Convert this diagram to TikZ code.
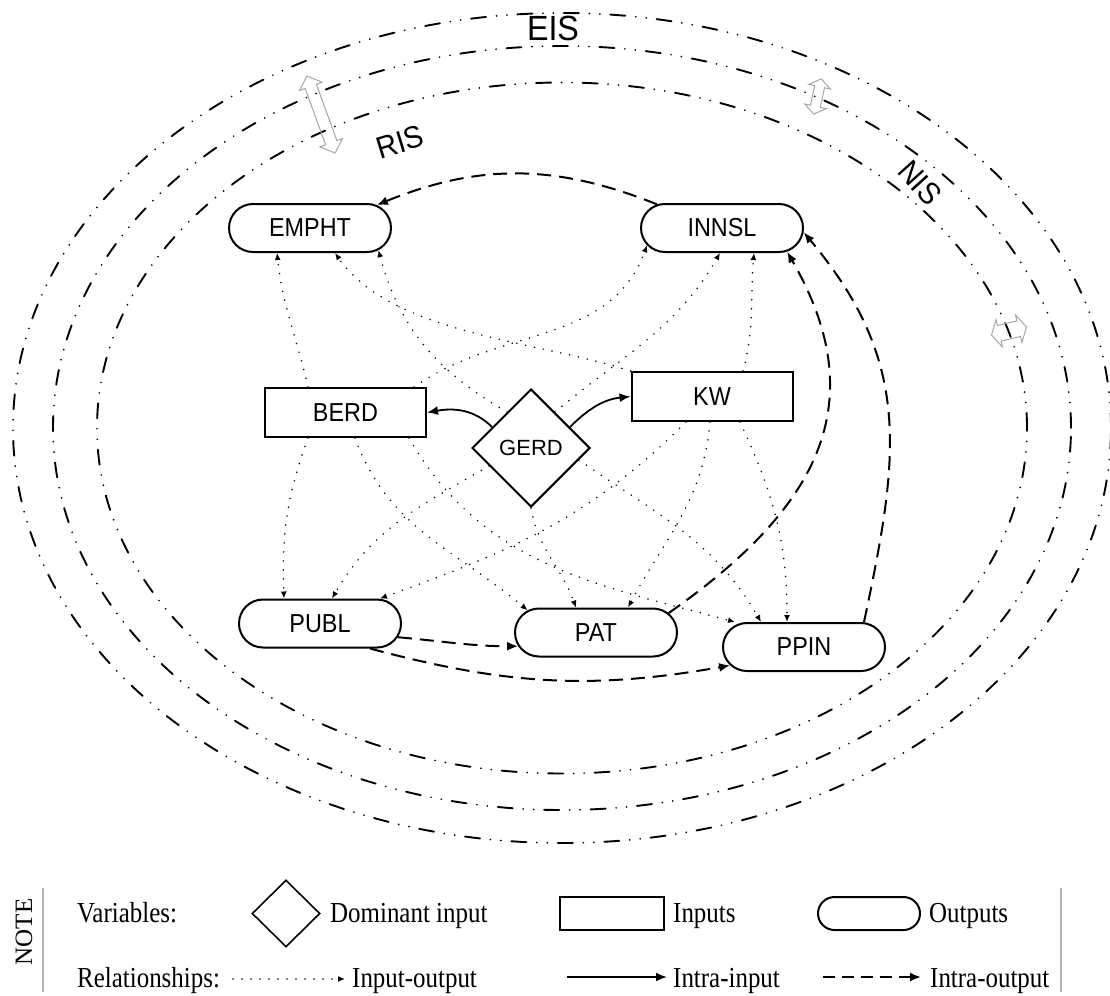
\documentclass[tikz,border=0pt]{standalone}
\usepackage{fontspec}
\setmainfont{Liberation Serif}
\setsansfont{Liberation Sans}
\usetikzlibrary{shapes.geometric,shapes.misc,arrows.meta,calc}
\newcommand{\legsc}[1]{\scalebox{0.86}[1]{#1}}
\newcommand{\nodesc}[1]{\scalebox{0.9}[1]{#1}}
% hollow double arrow: centre x, centre y, angle, half length, head length, half head width, half shaft width
\newcommand{\hollowdarrow}[7]{%
  \draw[gar, shift={(#1,#2)}, rotate=#3]
    (-#4,0) -- (-#4+#5,#6) -- (-#4+#5,#7) -- (#4-#5,#7) -- (#4-#5,#6) -- (#4,0)
    -- (#4-#5,-#6) -- (#4-#5,-#7) -- (-#4+#5,-#7) -- (-#4+#5,-#6) -- cycle;}
\begin{document}
\begin{tikzpicture}[x=1pt,y=1pt,
  outbox/.style={rounded rectangle, draw, line width=2pt, minimum width=162pt, minimum height=48pt, inner sep=0pt, font=\sffamily\fontsize{26}{26}\selectfont},
  inbox/.style={rectangle, draw, line width=2pt, minimum width=161pt, minimum height=49pt, inner sep=0pt, font=\sffamily\fontsize{26}{26}\selectfont},
  dombox/.style={diamond, draw, line width=2pt, minimum width=118pt, minimum height=118pt, inner sep=0pt, font=\sffamily\fontsize{22}{22}\selectfont},
  ring/.style={line width=1.9pt, dash pattern=on 15pt off 10.5pt on 0pt off 10.5pt on 0pt off 10.5pt, line cap=round},
  io/.style={line width=1.7pt, dash pattern=on 0pt off 9pt, line cap=round, -{Latex[length=7pt,width=6pt]}},
  intrain/.style={line width=1.8pt, -{Latex[length=11pt,width=9pt]}},
  intraout/.style={line width=2pt, dash pattern=on 14pt off 8pt, -{Latex[length=11pt,width=9pt]}},
  gar/.style={draw=black!35, line width=1pt, line join=miter},
  lab/.style={font=\sffamily\fontsize{31}{31}\selectfont, inner sep=0pt},
  legtext/.style={font=\fontsize{29}{29}\selectfont, inner sep=0pt, anchor=base west},
]
\fill[white] (0,0) rectangle (1110,-995);
\useasboundingbox (0,0) rectangle (1110,-995);

% system rings
\draw[ring] (562,-428) ellipse [x radius=465, y radius=345.5];
\draw[ring] (562,-428) ellipse [x radius=509, y radius=382];
\draw[ring] (562,-428) ellipse [x radius=549, y radius=415];

\node[lab, font=\sffamily\fontsize{35}{35}\selectfont] (EIS) at (553,-28) {\scalebox{0.92}[1]{EIS}};
\node[lab, rotate=17] (RIS) at (400,-142) {\scalebox{0.92}[1]{RIS}};
\node[lab, rotate=-48] (NIS) at (920,-183) {\scalebox{0.92}[1]{NIS}};

% hollow grey double arrows between the rings
\hollowdarrow{321}{-114.5}{110}{41}{11}{12}{6}
\hollowdarrow{817.5}{-96.5}{78}{18}{8}{11}{5}
\hollowdarrow{1009}{-331}{13}{18}{8}{14}{8}

% variables
\node[outbox] (EMPHT) at (310,-228) {\nodesc{EMPHT}};
\node[outbox] (INNSL) at (722,-228) {\nodesc{INNSL}};
\node[inbox] (BERD) at (345.5,-412.5) {\nodesc{BERD}};
\node[inbox] (KW) at (712,-396.5) {\nodesc{KW}};
\node[dombox] (GERD) at (531,-448) {GERD};
\node[outbox] (PUBL) at (320,-623.5) {\nodesc{PUBL}};
\node[outbox] (PAT) at (596,-632.5) {\nodesc{PAT}};
\node[outbox] (PPIN) at (804,-647) {\nodesc{PPIN}};

% input-output
\draw[io] ($(BERD.north)+(-37.5,0)$) to[out=103,in=-84] ($(EMPHT.south)+(-33,0)$);
\draw[io] (KW.north west) to[out=162,in=-55,looseness=0.8] ($(EMPHT.south)+(25,0)$);
\draw[io] ($(GERD.west)!0.6!(GERD.north)$) to[out=150,in=-75] (EMPHT.-18);
\draw[io] ($(BERD.north)+(68.5,0)$) to[out=35,in=-110] (INNSL.193);
\draw[io] ($(GERD.north)!0.4!(GERD.east)$) to[out=40,in=-120] ($(INNSL.south)+(-2,0)$);
\draw[io] ($(KW.north)+(31,0)$) to[out=75,in=-95] ($(INNSL.south)+(32,0)$);
\draw[io] ($(BERD.south)+(-37.5,0)$) to[out=-110,in=92] ($(PUBL.north)+(-36,0)$);
\draw[io] ($(GERD.west)!0.3!(GERD.south)$) to[out=210,in=60] ($(PUBL.north)+(12,0)$);
\draw[io] ($(KW.south)+(-26,0)$) to[out=225,in=20] ($(PUBL.north)+(60,0)$);
\draw[io] ($(BERD.south)+(9.5,0)$) to[out=-70,in=140] (PAT.162);
\draw[io] (GERD.south) to[out=-80,in=110] ($(PAT.north)+(-20,0)$);
\draw[io] ($(KW.south)+(-2,0)$) to[out=-95,in=62] ($(PAT.north)+(32,0)$);
\draw[io] ($(BERD.south)+(63.5,0)$) to[out=-60,in=165] ($(PPIN.north)+(-69,0)$);
\draw[io] ($(GERD.east)!0.2!(GERD.south)$) to[out=-35,in=120] ($(PPIN.north)+(-43,0)$);
\draw[io] ($(KW.south)+(28,0)$) to[out=-65,in=90] ($(PPIN.north)+(-17,0)$);

% intra-input
\draw[intrain] ($(GERD.west)!0.35!(GERD.north)$) to[out=135,in=10] (BERD.east);
\draw[intrain] ($(GERD.east)!0.35!(GERD.north)$) to[out=45,in=186] (KW.west);

% intra-output
\draw[intraout] (INNSL.160) to[bend right=22] (EMPHT.19);
\draw[intraout] (PAT.15) to[out=35,in=-60,looseness=1.2] (INNSL.-20);
\draw[intraout] ($(PPIN.north)+(60,0)$) to[out=78,in=-50,looseness=1.1] (INNSL.-3);
\draw[intraout] (PUBL.-10) to[out=-5,in=180] (PAT.190);
\draw[intraout] ($(PUBL.south)+(50,0)$) to[out=-15,in=190] (PPIN.194);

% legend
\draw[black!30, line width=1.5pt] (43,-888) -- (43,-992);
\draw[black!30, line width=1.5pt] (1061,-888) -- (1061,-992);
\node[rotate=90, font=\fontsize{25}{25}\selectfont, inner sep=0pt] (NOTE) at (24,-932) {NOTE};
\node[legtext] (lvar) at (77,-922) {\legsc{Variables:}};
\node[diamond, draw, line width=1.6pt, minimum width=68pt, minimum height=67pt, inner sep=0pt] (legD) at (286,-913.5) {};
\node[legtext] (ldom) at (330,-922) {\legsc{Dominant input}};
\node[rectangle, draw, line width=2pt, minimum width=104pt, minimum height=33pt, inner sep=0pt] (legR) at (612,-913.5) {};
\node[legtext] (linp) at (673,-922) {\legsc{Inputs}};
\node[rounded rectangle, draw, line width=2pt, minimum width=102pt, minimum height=33pt, inner sep=0pt] (legO) at (869,-913.5) {};
\node[legtext] (lout) at (929,-922) {\legsc{Outputs}};
\node[legtext] (lrel) at (77,-987) {\legsc{Relationships:}};
\coordinate (l1a) at (233,-979);
\coordinate (l1b) at (345,-979);
\draw[io] (l1a) -- (l1b);
\node[legtext] (lio) at (352,-987) {\legsc{Input-output}};
\coordinate (l2a) at (567,-977);
\coordinate (l2b) at (667,-977);
\draw[intrain] (l2a) -- (l2b);
\node[legtext] (lii) at (673,-987) {\legsc{Intra-input}};
\coordinate (l3a) at (823,-977);
\coordinate (l3b) at (921,-977);
\draw[intraout, dash pattern=on 12pt off 7pt] (l3a) -- (l3b);
\node[legtext] (lioo) at (930,-987) {\legsc{Intra-output}};
\end{tikzpicture}
\end{document}
